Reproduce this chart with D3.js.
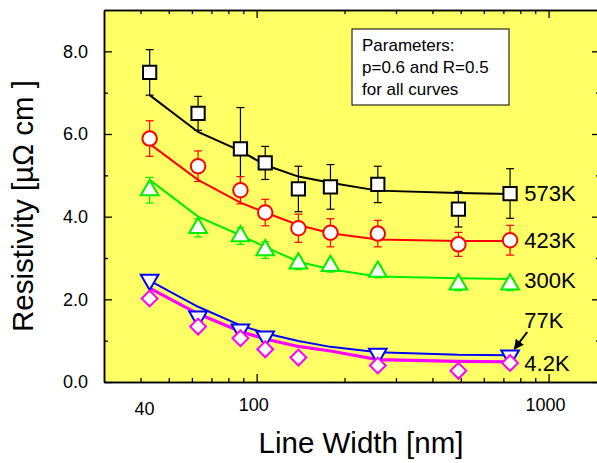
<!DOCTYPE html>
<html>
<head>
<meta charset="utf-8">
<script src="https://cdn.jsdelivr.net/npm/d3@7"></script>
<style>
  body { margin: 0; background: #fff; }
  text { font-family: "Liberation Sans", Arial, sans-serif; fill: #000; }
</style>
</head>
<body>
<svg width="597" height="463"></svg>
<script>
// line widths [nm] where the fits are evaluated / most points sit
var widths = [43, 63, 88, 107, 139, 179, 260, 491, 738];

// 573K
var r573 = [7.49, 6.50, 5.64, 5.30, 4.67, 4.72, 4.78, 4.18, 4.56];
var e573 = [0.55, 0.41, 1.00, 0.40, 0.55, 0.54, 0.44, 0.43, 0.60];
var fit573 = [6.94, 6.05, 5.59, 5.25, 4.97, 4.82, 4.63, 4.57, 4.55];

// 423K
var r423 = [5.89, 5.22, 4.64, 4.10, 3.72, 3.61, 3.59, 3.33, 3.43];
var e423 = [0.43, 0.37, 0.33, 0.32, 0.34, 0.34, 0.32, 0.29, 0.36];
var fit423 = [5.76, 4.89, 4.34, 4.10, 3.80, 3.60, 3.45, 3.41, 3.41];

// 300K
var r300 = [4.64, 3.73, 3.53, 3.19, 2.87, 2.81, 2.67, 2.36, 2.36];
var e300 = [0.31, 0.22, 0.20, 0.20, 0.15, 0.15, 0.15, 0.15, 0.15];
var fit300 = [4.89, 4.00, 3.55, 3.27, 2.91, 2.73, 2.55, 2.51, 2.49];

// 77K
var w77 = [43, 63, 88, 107, 260, 738];
var r77 = [2.47, 1.58, 1.27, 1.10, 0.68, 0.64];
var fit77 = [2.45, 1.82, 1.37, 1.18, 0.99, 0.85, 0.72, 0.66, 0.65];

// 4.2K
var w42 = [43, 63, 88, 107, 139, 260, 491, 738];
var r42 = [2.02, 1.34, 1.06, 0.79, 0.59, 0.40, 0.27, 0.46];
var fit42 = [2.27, 1.65, 1.22, 1.04, 0.86, 0.75, 0.54, 0.50, 0.49];

var xTickLabels = [40, 100, 1000];
var xMajor = [100, 1000];
var xMinor = [40, 50, 60, 70, 80, 90, 200, 300, 400, 500, 600, 700, 800, 900];
var yTickLabels = [0, 2, 4, 6, 8];
var yMinor = [1, 3, 5, 7];

var tempLabels = ["573K", "423K", "300K", "77K", "4.2K"];
var tempLabelY = [4.57, 3.43, 2.47, 1.5, 0.46];

var svg = d3.select("svg");
var pLeft = 104, pRight = 600, pTop = 10, pBottom = 382;

var x = d3.scaleLog().domain([30, 1500]).range([pLeft, pRight]);
var y = d3.scaleLinear().domain([0, 9]).range([pBottom, pTop]);

svg.append("rect")
  .attr("x", pLeft).attr("y", pTop)
  .attr("width", pRight - pLeft).attr("height", pBottom - pTop)
  .attr("fill", "#ffff66");

// axes, ticks pointing in
function ax(gen, tr, vals, size) {
  svg.append("g").attr("transform", tr)
    .call(gen.tickValues(vals).tickSize(size).tickSizeOuter(0).tickFormat(""))
    .call(function(g) {
      g.selectAll("line").attr("stroke", "#000").attr("stroke-width", 1.3);
      g.select(".domain").attr("stroke", "#000").attr("stroke-width", 1.5);
    });
}
ax(d3.axisBottom(x), "translate(0," + pBottom + ")", xMinor, -4);
ax(d3.axisBottom(x), "translate(0," + pBottom + ")", xMajor, -8);
ax(d3.axisTop(x), "translate(0," + pTop + ")", xMinor, -4);
ax(d3.axisTop(x), "translate(0," + pTop + ")", xMajor, -8);
ax(d3.axisLeft(y), "translate(" + pLeft + ",0)", yMinor, -4);
ax(d3.axisLeft(y), "translate(" + pLeft + ",0)", yTickLabels, -8);
ax(d3.axisRight(y), "translate(" + pRight + ",0)", yMinor, -4);
ax(d3.axisRight(y), "translate(" + pRight + ",0)", yTickLabels, -8);

// tick labels (the 40 sits a little lower in the original)
svg.append("g").selectAll("text").data(xTickLabels).enter().append("text")
  .attr("x", function(d) { return x(d) + (d == 40 ? 4 : -3); })
  .attr("y", function(d) { return d == 40 ? 415 : 411; })
  .attr("text-anchor", "middle")
  .style("font-size", "18px")
  .text(function(d) { return d; });

svg.append("g").selectAll("text").data(yTickLabels).enter().append("text")
  .attr("x", 88)
  .attr("y", function(d) { return y(d); })
  .attr("dy", "0.35em")
  .attr("text-anchor", "end")
  .style("font-size", "18px")
  .text(function(d) { return d3.format(".1f")(d); });

// axis titles
svg.append("text")
  .attr("x", 361).attr("y", 453)
  .attr("text-anchor", "middle")
  .style("font-size", "29.5px")
  .text("Line Width [nm]");

svg.append("text")
  .attr("transform", "translate(33,206) rotate(-90)")
  .attr("text-anchor", "middle")
  .style("font-size", "29.5px")
  .text("Resistivity [\u00b5\u03a9 cm ]");

var series = [
  { xs: widths, ys: r573, err: e573, fit: fit573, color: "#000000", sym: d3.symbolSquare, size: 175, rot: 0, lw: 2 },
  { xs: widths, ys: r423, err: e423, fit: fit423, color: "#ff0000", sym: d3.symbolCircle, size: 165, rot: 0, lw: 2 },
  { xs: widths, ys: r300, err: e300, fit: fit300, color: "#00ee00", sym: d3.symbolTriangle, size: 135, rot: 0, lw: 2 },
  { xs: w77, ys: r77, err: null, fit: fit77, color: "#0000ff", sym: d3.symbolTriangle, size: 135, rot: 180, lw: 2 },
  { xs: w42, ys: r42, err: null, fit: fit42, color: "#ff00ff", sym: d3.symbolSquare, size: 125, rot: 45, lw: 3.2 }
];

var line = d3.line()
  .x(function(d) { return x(d[0]); })
  .y(function(d) { return y(d[1]); });

// error bars
series.forEach(function(s) {
  if (!s.err) return;
  var g = svg.append("g").attr("stroke", s.color).attr("stroke-width", 1.2);
  s.xs.forEach(function(w, i) {
    var cx = x(w), y0 = y(s.ys[i] - s.err[i]), y1 = y(s.ys[i] + s.err[i]);
    g.append("line").attr("x1", cx).attr("x2", cx).attr("y1", y0).attr("y2", y1);
    g.append("line").attr("x1", cx - 4).attr("x2", cx + 4).attr("y1", y0).attr("y2", y0);
    g.append("line").attr("x1", cx - 4).attr("x2", cx + 4).attr("y1", y1).attr("y2", y1);
  });
});

// fit curves
series.forEach(function(s) {
  svg.append("path")
    .datum(d3.zip(widths, s.fit))
    .attr("d", line)
    .attr("fill", "none")
    .attr("stroke", s.color)
    .attr("stroke-width", s.lw);
});

// symbols
series.forEach(function(s) {
  svg.append("g").selectAll("path").data(d3.zip(s.xs, s.ys)).enter().append("path")
    .attr("d", d3.symbol().type(s.sym).size(s.size))
    .attr("transform", function(d) {
      return "translate(" + x(d[0]) + "," + y(d[1]) + ") rotate(" + s.rot + ")";
    })
    .attr("fill", "#fff")
    .attr("stroke", s.color)
    .attr("stroke-width", 2);
});

// temperature labels
svg.append("g").selectAll("text").data(tempLabels).enter().append("text")
  .attr("x", x(826))
  .attr("y", function(d, i) { return y(tempLabelY[i]); })
  .attr("dy", "0.35em")
  .style("font-size", "22px")
  .text(function(d) { return d; });

// arrow from 77K label to the curve
svg.append("defs").append("marker")
  .attr("id", "head")
  .attr("viewBox", "0 0 10 10")
  .attr("refX", 9).attr("refY", 5)
  .attr("markerWidth", 5).attr("markerHeight", 5)
  .attr("orient", "auto")
  .append("path").attr("d", "M0,0L10,5L0,10z").attr("fill", "#000");

svg.append("line")
  .attr("x1", x(845)).attr("y1", y(1.21))
  .attr("x2", x(764)).attr("y2", y(0.80))
  .attr("stroke", "#000").attr("stroke-width", 2)
  .attr("marker-end", "url(#head)");

// parameter box
var box = svg.append("g");
box.append("rect")
  .attr("x", 352).attr("y", 29).attr("width", 157).attr("height", 76)
  .attr("fill", "#fff").attr("stroke", "#000").attr("stroke-width", 1);
box.selectAll("text").data(["Parameters:", "p=0.6 and R=0.5", "for all curves"]).enter().append("text")
  .attr("x", 362)
  .attr("y", function(d, i) { return 51 + i * 22; })
  .style("font-size", "17px")
  .text(function(d) { return d; });
</script>
</body>
</html>
